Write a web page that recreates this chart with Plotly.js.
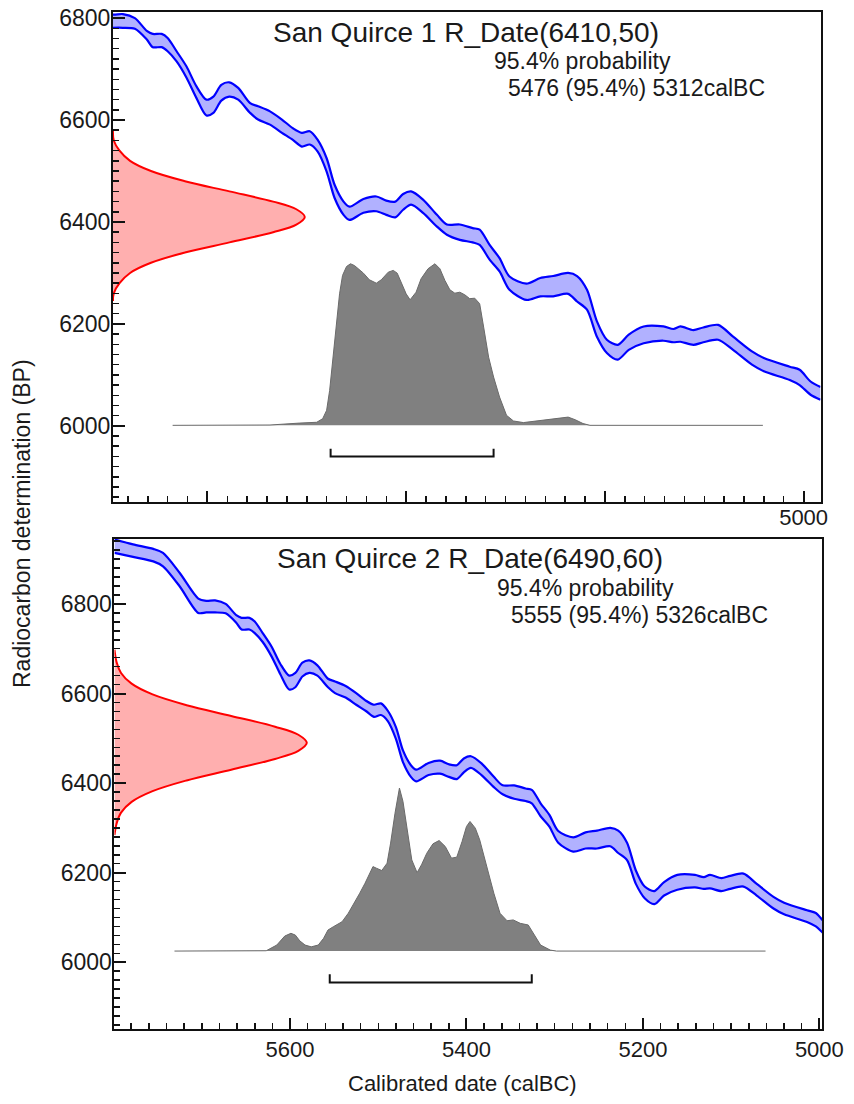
<!DOCTYPE html>
<html>
<head>
<meta charset="utf-8">
<script src="https://cdn.plot.ly/plotly-3.0.1.min.js"></script>
<style>html,body{margin:0;padding:0;background:#fff;}#chart{width:854px;height:1104px;}</style>
</head>
<body>
<div id="chart"></div>
<script>
// ---- Calibration curve (IntCal band, calBC vs BP) ----
const calBC   = [5799,5778,5755,5744,5725,5704,5695,5685,5673,5661,5655,5646,5640,5631,5621,5611,5601,5594,5586,5578,5569,5557,5549,5537,5525,5514,5505,5497,5489,5480,5472,5463,5457,5443,5430,5420,5411,5403,5395,5383,5369,5359,5346,5333,5326,5316,5306,5296,5279,5265,5252,5237,5228,5218,5208,5198,5187,5176,5161,5141,5131,5124,5111,5101,5086,5071,5052,5040,5014,5004,4993,4983];
const upperBP = [6944,6933,6923,6914,6869,6812,6807,6808,6800,6775,6769,6769,6761,6735,6705,6666,6640,6646,6669,6674,6663,6633,6627,6617,6601,6584,6575,6578,6561,6525,6473,6440,6430,6445,6450,6442,6440,6455,6460,6444,6414,6395,6395,6388,6385,6355,6329,6293,6279,6290,6294,6300,6294,6267,6205,6169,6159,6179,6195,6195,6190,6195,6188,6193,6198,6175,6146,6133,6116,6110,6087,6076];
const lowerBP = [6914,6905,6895,6884,6839,6780,6781,6781,6779,6758,6743,6743,6735,6715,6683,6643,6609,6614,6638,6646,6640,6614,6601,6591,6575,6561,6548,6552,6538,6499,6447,6414,6404,6418,6421,6414,6409,6424,6434,6418,6391,6375,6365,6360,6355,6326,6303,6267,6247,6254,6254,6259,6244,6228,6175,6143,6130,6149,6162,6167,6164,6165,6159,6164,6169,6149,6120,6107,6090,6080,6061,6051];

// ---- San Quirce 1 ----
const s1Title = "San Quirce 1 R_Date(6410,50)";
const s1Prob  = "95.4% probability";
const s1Range = "5476 (95.4%) 5312calBC";
const s1RangeVals = [5476, 5312];
const s1Years = [5635,5537,5507,5490,5484,5480,5477,5474,5470,5467,5464,5460,5456,5452,5443,5437,5430,5425,5418,5413,5409,5405,5400,5396,5390,5385,5378,5371,5366,5361,5356,5351,5346,5341,5336,5331,5326,5322,5317,5312,5306,5299,5292,5282,5269,5252,5237,5230,5222,5215,5041];
const s1Dens  = [0,0.002,0.014,0.019,0.041,0.093,0.216,0.402,0.629,0.814,0.928,0.983,1.0,0.989,0.942,0.901,0.880,0.901,0.948,0.959,0.942,0.886,0.814,0.777,0.824,0.907,0.969,1.0,0.969,0.897,0.839,0.818,0.824,0.808,0.784,0.787,0.753,0.608,0.422,0.299,0.175,0.062,0.027,0.017,0.027,0.039,0.051,0.035,0.011,0,0];
const s1RedBP = [6245,6260,6280,6300,6320,6340,6360,6380,6395,6410,6425,6440,6460,6480,6500,6520,6540,6560,6582];
const s1RedW  = [0,0.004,0.034,0.089,0.198,0.375,0.607,0.835,0.956,1.0,0.956,0.835,0.607,0.375,0.198,0.089,0.034,0.004,0];

// ---- San Quirce 2 ----
const s2Title = "San Quirce 2 R_Date(6490,60)";
const s2Prob  = "95.4% probability";
const s2Range = "5555 (95.4%) 5326calBC";
const s2RangeVals = [5555, 5326];
const s2Years = [5731,5627,5615,5606,5599,5594,5589,5583,5576,5568,5562,5557,5551,5541,5534,5526,5521,5515,5509,5506,5502,5496,5490,5486,5481,5476,5472,5467,5462,5456,5451,5445,5438,5431,5424,5417,5411,5405,5400,5396,5390,5385,5377,5369,5362,5354,5347,5339,5330,5324,5316,5305,5298,5061];
const s2Dens  = [0,0.002,0.037,0.092,0.109,0.098,0.063,0.037,0.026,0.037,0.078,0.129,0.149,0.180,0.232,0.303,0.355,0.416,0.478,0.518,0.508,0.494,0.539,0.662,0.846,1.0,0.918,0.744,0.559,0.481,0.529,0.600,0.658,0.678,0.641,0.570,0.576,0.672,0.764,0.795,0.754,0.682,0.518,0.355,0.232,0.186,0.191,0.170,0.160,0.109,0.037,0.006,0,0];
const s2RedBP = [6284,6310,6334,6358,6382,6406,6430,6454,6472,6490,6508,6526,6550,6574,6598,6622,6646,6670,6698];
const s2RedW  = [0,0.011,0.034,0.089,0.198,0.375,0.607,0.835,0.956,1.0,0.956,0.835,0.607,0.375,0.198,0.089,0.034,0.011,0];

// ---- Axes ticks ----
const xTickVals = [5600,5400,5200,5000];
const xTickTextTop = ['','','','5000'];
const xTickTextBot = ['5600','5400','5200','5000'];
const yTickVals = [6000,6200,6400,6600,6800];
const yTickText = ['6000','6200','6400','6600','6800'];

// ---- Layout constants (styling) ----
const FONT = 'Liberation Sans, Arial, Helvetica, sans-serif';
const cfgTop = {xr:[5695,4983], yr:[5850,6812], base:6001, H:317, redAmp:193, bracketY:5940, bracketH:15};
const cfgBot = {xr:[5799,4997], yr:[5851,6945], base:6025, H:364, redAmp:218, bracketY:5955, bracketH:18};

function panelTraces(xa, ya, cfg, years, dens, redBP, redW, rng) {
  const tr = [];
  tr.push({x:calBC, y:lowerBP, xaxis:xa, yaxis:ya, mode:'lines', line:{color:'#0000ff', width:2.2, shape:'spline', smoothing:0.8}, hoverinfo:'skip'});
  tr.push({x:calBC, y:upperBP, xaxis:xa, yaxis:ya, mode:'lines', fill:'tonexty', fillcolor:'rgba(100,100,255,0.5)', line:{color:'#0000ff', width:2.2, shape:'spline', smoothing:0.8}, hoverinfo:'skip'});
  tr.push({x:redW.map(w => cfg.xr[0] - w*cfg.redAmp), y:redBP, xaxis:xa, yaxis:ya, mode:'lines', fill:'toself', fillcolor:'rgba(255,110,110,0.55)', line:{color:'#ff0000', width:2, shape:'spline', smoothing:1}, hoverinfo:'skip'});
  tr.push({x:years, y:dens.map(p => cfg.base + p*cfg.H), xaxis:xa, yaxis:ya, mode:'lines', fill:'toself', fillcolor:'#808080', line:{color:'#6a6a6a', width:1}, hoverinfo:'skip'});
  tr.push({x:[rng[0],rng[0],rng[1],rng[1]], y:[cfg.bracketY+cfg.bracketH, cfg.bracketY, cfg.bracketY, cfg.bracketY+cfg.bracketH], xaxis:xa, yaxis:ya, mode:'lines', line:{color:'#111', width:2}, hoverinfo:'skip'});
  return tr;
}

const data = [].concat(
  panelTraces('x','y', cfgTop, s1Years, s1Dens, s1RedBP, s1RedW, s1RangeVals),
  panelTraces('x2','y2', cfgBot, s2Years, s2Dens, s2RedBP, s2RedW, s2RangeVals)
);

function xAxis(dom, rng, anchor, ticktext, standoff) {
  return {domain:dom, range:rng, anchor:anchor, tickmode:'array', tickvals:xTickVals, ticktext:ticktext,
    ticks:'inside', ticklen:11, tickwidth:2, tickcolor:'#111', ticklabelstandoff:standoff,
    minor:{tickmode:'linear', tick0:5000, dtick:20, ticks:'inside', ticklen:6, tickwidth:1.5, tickcolor:'#111'},
    showline:true, linewidth:2, linecolor:'#111', mirror:true, showgrid:false, zeroline:false,
    tickfont:{family:FONT, size:22, color:'#1a1a1a'}, fixedrange:true};
}
function yAxis(dom, rng, anchor) {
  return {domain:dom, range:rng, anchor:anchor, tickmode:'array', tickvals:yTickVals, ticktext:yTickText,
    ticks:'inside', ticklen:12, tickwidth:2, tickcolor:'#111', ticklabelstandoff:-4,
    minor:{tickmode:'linear', tick0:6000, dtick:20, ticks:'inside', ticklen:6, tickwidth:1.5, tickcolor:'#111'},
    showline:true, linewidth:2, linecolor:'#111', mirror:true, showgrid:false, zeroline:false,
    tickfont:{family:FONT, size:23, color:'#1a1a1a'}, fixedrange:true};
}

const PW = 709, PH = 1017, PL = 113, PT = 12;
const toPx = v => (v - PL) / PW;
const toPy = v => (PT + PH - v) / PH;

function ann(text, x, y, size, xanchor, extra) {
  return Object.assign({text:text, x:toPx(x), y:toPy(y), xref:'paper', yref:'paper', xanchor:xanchor||'left', yanchor:'middle', showarrow:false, font:{family:FONT, size:size, color:'#1a1a1a'}}, extra||{});
}

const layout = {
  width:854, height:1104, margin:{l:113, r:32, t:12, b:75}, paper_bgcolor:'#fff', plot_bgcolor:'#fff', showlegend:false,
  xaxis: xAxis([0, 0.9979], cfgTop.xr, 'y', xTickTextTop, -6),
  yaxis: yAxis([0.5179, 1], cfgTop.yr, 'x'),
  xaxis2: xAxis([0.0021, 1], cfgBot.xr, 'y2', xTickTextBot, 0),
  yaxis2: yAxis([0, 0.4818], cfgBot.yr, 'x2'),
  annotations: [
    ann(s1Title, 271, 33, 28),
    ann(s1Prob, 492, 61, 23),
    ann(s1Range, 506, 88, 23),
    ann(s2Title, 275, 558, 28),
    ann(s2Prob, 495, 588, 23),
    ann(s2Range, 509, 615, 23),
    ann('Calibrated date (calBC)', 462, 1083, 22, 'center'),
    ann('Radiocarbon determination (BP)', 22, 524, 23, 'center', {textangle:-90})
  ]
};

Plotly.newPlot('chart', data, layout, {staticPlot:true, displayModeBar:false});
</script>
</body>
</html>
